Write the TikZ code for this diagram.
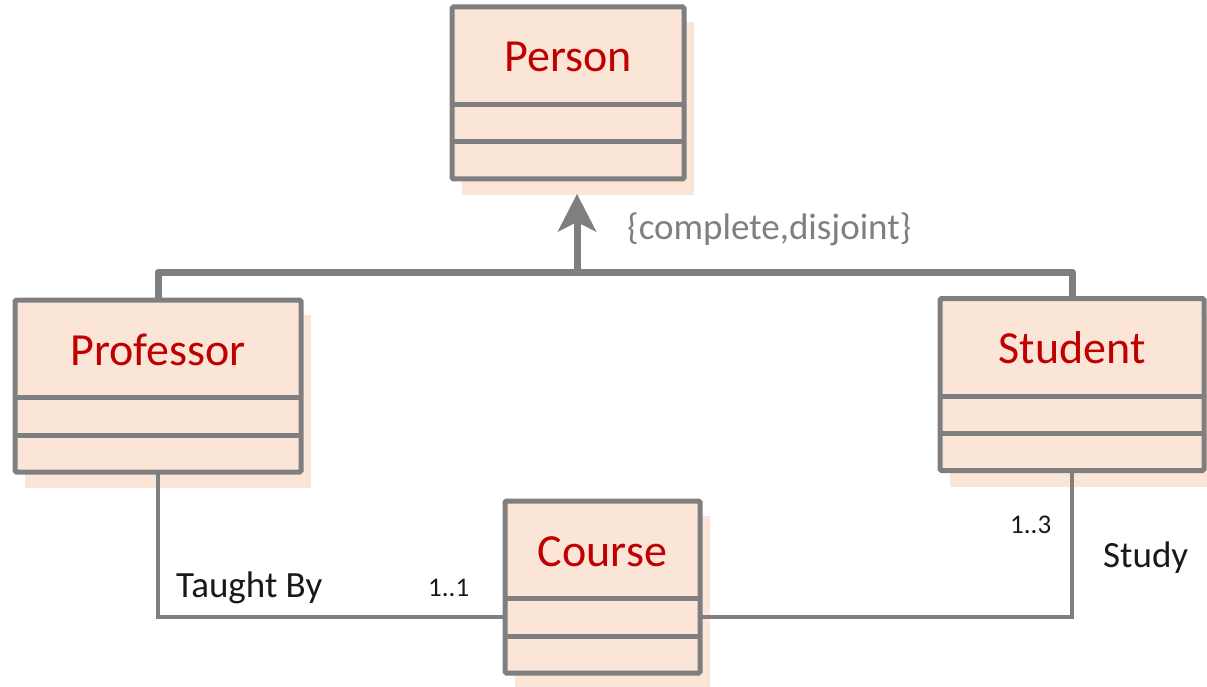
\documentclass[tikz,border=0pt]{standalone}
\usepackage{fontspec}
\setmainfont{Carlito}
\usetikzlibrary{arrows.meta, positioning}

\definecolor{classfill}{HTML}{FBE5D6}
\definecolor{classgray}{HTML}{7F7F7F}
\definecolor{classred}{HTML}{C00000}

% class box: name, centre x, top y, width, title
\newcommand{\umlclass}[5]{%
  \fill[classfill] (#2-#4/2+10, #3+15) rectangle (#2+#4/2+10, #3+188);
  \node[classbox, minimum width=#4pt, anchor=north] (#1) at (#2, #3) {};
  \draw[classborder] ([yshift=-97.5pt]#1.north west) -- ([yshift=-97.5pt]#1.north east);
  \draw[classborder] ([yshift=-135pt]#1.north west) -- ([yshift=-135pt]#1.north east);
  \node[classtitle, anchor=base] (#1-title) at ([yshift=-65pt]#1.north) {#5};
}

\begin{document}
\begin{tikzpicture}[x=1pt, y=-1pt,
    classbox/.style={draw=classgray, fill=classfill, line width=5pt,
      minimum height=172pt, inner sep=0pt, outer sep=0pt, rounded corners=1.5pt},
    classborder/.style={draw=classgray, line width=5pt},
    classtitle/.style={text=classred, inner sep=0pt, font=\fontsize{46}{50}\selectfont},
    genline/.style={draw=classgray, line width=7pt, line join=round},
    assocline/.style={draw=classgray, line width=3.5pt},
    assoclabel/.style={inner sep=0pt, text=black!90, font=\fontsize{37}{40}\selectfont},
    multlabel/.style={inner sep=0pt, text=black!90, font=\fontsize{27}{30}\selectfont}]
  \useasboundingbox (0,0) rectangle (1207,687);

  \umlclass{person}{568}{7}{232}{Person}
  \umlclass{professor}{158}{300}{286}{Professor}
  \umlclass{student}{1072}{298.5}{264}{Student}
  \umlclass{course}{602.5}{501}{195}{Course}

  % generalisation
  \coordinate (split) at (577,272);
  \draw[genline] (professor.north) -- ++(0,-28) -| (student.north);
  \draw[genline, shorten >=15pt,
        -{Stealth[length=38pt, width=39pt, inset=10pt, line width=0.5pt]}]
        (split) -- (split |- person.south);
  \node[assoclabel, text=classgray, anchor=base west] (constraint) at (627,239)
        {\{complete,disjoint\}};

  % associations
  \draw[assocline] (professor.south) |- ([yshift=-30pt]course.west);
  \draw[assocline] ([yshift=-30pt]course.east) -| (student.south);

  \node[assoclabel, anchor=base west] (taughtby) at (176,597) {Taught By};
  \node[multlabel, anchor=base west] (mult-prof) at (428,596) {1..1};
  \node[multlabel, anchor=base west] (mult-stud) at (1010,533) {1..3};
  \node[assoclabel, anchor=base west] (study) at (1103,567) {Study};
\end{tikzpicture}
\end{document}
